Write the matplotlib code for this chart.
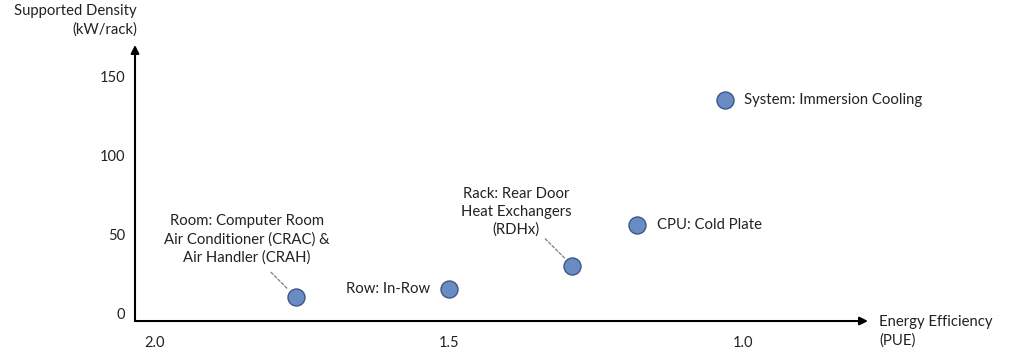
import matplotlib.pyplot as plt

plt.rcParams['font.family'] = ['Lato', 'DejaVu Sans']

# data
labels = ['Room: Computer Room\nAir Conditioner (CRAC) &\nAir Handler (CRAH)',
          'Row: In-Row',
          'Rack: Rear Door\nHeat Exchangers\n(RDHx)',
          'CPU: Cold Plate',
          'System: Immersion Cooling']
pue = [1.76, 1.50, 1.29, 1.18, 1.03]
density = [10, 15, 30, 56, 135]
xticks = [2.0, 1.5, 1.0]
yticks = [0, 50, 100, 150]

fig = plt.figure(figsize=(10.12, 3.59), dpi=100)
ax = fig.add_axes([0.1334, 0.1058, 0.7243, 0.7689])
ax.set_xlim(2.034, 0.787)
ax.set_ylim(-5, 170)

for s in ax.spines.values():
    s.set_visible(False)

# axes with arrow heads
ax.annotate('', xy=(1, 0), xytext=(0, 0), xycoords='axes fraction',
            arrowprops=dict(arrowstyle='-|>', color='black', lw=1.5,
                            mutation_scale=12, shrinkA=0, shrinkB=0))
ax.annotate('', xy=(0, 1), xytext=(0, 0), xycoords='axes fraction',
            arrowprops=dict(arrowstyle='-|>', color='black', lw=1.5,
                            mutation_scale=12, shrinkA=0, shrinkB=0))

ax.scatter(pue, density, s=150, color='#6a8cc5', edgecolor='#3f5785',
           linewidth=1.0, zorder=3)

ax.set_xticks(xticks)
ax.set_xticklabels(['2.0', '1.5', '1.0'])
ax.set_yticks(yticks)
ax.tick_params(length=0, labelsize=10.5, colors='#222222')
ax.tick_params(axis='x', pad=11)
ax.tick_params(axis='y', pad=7)

txt = dict(fontsize=10.7, color='#222222')
lead = dict(arrowstyle='-', color='#888888', ls=(0, (2, 1.5)), lw=1,
            shrinkA=0, shrinkB=0)

# Room
ax.annotate(labels[0], xy=(pue[0], density[0]), xytext=(-49, 58),
            textcoords='offset pixels', ha='center', va='center',
            linespacing=1.35, **txt)
ax.annotate('', xy=(pue[0], density[0]), xytext=(-25, 25),
            textcoords='offset pixels',
            arrowprops=dict(lead, shrinkB=8))
# Row
ax.annotate(labels[1], xy=(pue[1], density[1]), xytext=(-19, 0),
            textcoords='offset pixels', ha='right', va='center', **txt)
# Rack
ax.annotate(labels[2], xy=(pue[2], density[2]), xytext=(-56, 54),
            textcoords='offset pixels', ha='center', va='center',
            linespacing=1.35, **txt)
ax.annotate('', xy=(pue[2], density[2]), xytext=(-27, 27),
            textcoords='offset pixels',
            arrowprops=dict(lead, shrinkB=8))
# CPU
ax.annotate(labels[3], xy=(pue[3], density[3]), xytext=(20, 0),
            textcoords='offset pixels', ha='left', va='center', **txt)
# Immersion
ax.annotate(labels[4], xy=(pue[4], density[4]), xytext=(19, 0),
            textcoords='offset pixels', ha='left', va='center', **txt)

fig.text(137 / 1012, 1 - 20 / 359, 'Supported Density\n(kW/rack)',
         ha='right', va='center', linespacing=1.4, **txt)
fig.text(879 / 1012, 1 - 331 / 359, 'Energy Efficiency\n(PUE)',
         ha='left', va='center', linespacing=1.4, **txt)

fig.savefig('out.png', dpi=100)
